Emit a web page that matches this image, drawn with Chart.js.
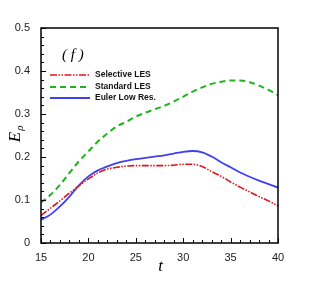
<!DOCTYPE html>
<html><head><meta charset="utf-8">
<script src="https://cdn.jsdelivr.net/npm/chart.js@4/dist/chart.umd.min.js"></script>
<style>html,body{margin:0;padding:0;background:#fff}#wrap{width:316px;height:281px}</style>
</head><body><div id="wrap"><canvas id="c" width="316" height="281"></canvas></div>
<script>
const tValues = [15,16,17,18,19,20,21,22,23,24,25,26,27,28,29,30,31,32,33,34,35,36,37,38,39,40];
const selectiveLES = [0.064,0.081,0.098,0.116,0.133,0.149,0.163,0.172,0.176,0.179,0.180,0.180,0.180,0.180,0.181,0.183,0.183,0.178,0.166,0.155,0.142,0.130,0.119,0.108,0.098,0.086];
const standardLES = [0.094,0.112,0.135,0.163,0.190,0.213,0.236,0.255,0.271,0.282,0.294,0.303,0.311,0.319,0.329,0.340,0.352,0.362,0.370,0.375,0.378,0.378,0.374,0.366,0.356,0.344];
const eulerLowRes = [0.054,0.066,0.085,0.108,0.134,0.155,0.169,0.178,0.186,0.191,0.195,0.198,0.201,0.204,0.208,0.212,0.214,0.211,0.201,0.188,0.176,0.164,0.154,0.145,0.137,0.129];
const seriesNames = ["Selective LES","Standard LES","Euler Low Res."];
const xTicks = [15,20,25,30,35,40];
const yTicks = [0,0.1,0.2,0.3,0.4,0.5];

const pts = arr => arr.map((v,i)=>({x:tValues[i], y:v}));

const framePlugin = {
  id:'frame',
  afterDatasetsDraw(chart){
    const {ctx, chartArea:a, scales:{x,y}} = chart;
    ctx.save();
    ctx.strokeStyle='#000';
    ctx.lineWidth=1;
    ctx.beginPath();
    for(let t=15;t<=40;t++){
      const px=Math.round(x.getPixelForValue(t))+0.5;
      const len = (t%5===0)?5:3;
      ctx.moveTo(px,a.bottom); ctx.lineTo(px,a.bottom-len);
    }
    for(let k=0;k<=25;k++){
      const v=k*0.02;
      const py=Math.round(y.getPixelForValue(v))+0.5;
      const len=(k%5===0)?5:3;
      ctx.moveTo(a.left,py); ctx.lineTo(a.left+len,py);
    }
    ctx.stroke();
    ctx.lineWidth=1.5;
    ctx.strokeRect(a.left,a.top,a.right-a.left,a.bottom-a.top);
    ctx.fillStyle='#000';
    ctx.font='italic 17px "Liberation Serif", "DejaVu Serif", serif';
    ctx.textAlign='center'; ctx.textBaseline='alphabetic';
    ctx.fillText('t',(a.left+a.right)/2+1,271);
    ctx.save();
    ctx.translate(20,137);
    ctx.rotate(-Math.PI/2);
    ctx.textAlign='center';
    ctx.fillText('E',0,0);
    ctx.font='italic 11px "Liberation Serif", "DejaVu Serif", serif';
    ctx.fillText('ρ',9,3);
    ctx.restore();
    ctx.font='italic 15px "Liberation Serif", "DejaVu Serif", serif';
    ctx.textAlign='left';
    ctx.fillText('( f )',62,59);
    ctx.restore();
  }
};

new Chart(document.getElementById('c'),{
  type:'line',
  data:{datasets:[
    {label:seriesNames[0],data:pts(selectiveLES),borderColor:'#e0141e',borderWidth:1.6,borderDash:[7,1.5,1.5,1.5,1.5,1.5],pointRadius:0,cubicInterpolationMode:'monotone',fill:false},
    {label:seriesNames[1],data:pts(standardLES),borderColor:'#1fb41f',borderWidth:2,borderDash:[6,4],pointRadius:0,cubicInterpolationMode:'monotone',fill:false},
    {label:seriesNames[2],data:pts(eulerLowRes),borderColor:'#4040f5',borderWidth:1.8,pointRadius:0,cubicInterpolationMode:'monotone',fill:false}
  ]},
  options:{
    responsive:false,animation:false,
    layout:{padding:{left:0,right:38,top:28,bottom:0}},
    plugins:{legend:{display:false},tooltip:{enabled:false}},
    scales:{
      x:{type:'linear',min:15,max:40,
        afterBuildTicks:s=>{s.ticks=xTicks.map(v=>({value:v}));},
        afterFit:s=>{s.height=38;},
        grid:{display:false},border:{display:false},
        ticks:{color:'#222',font:{family:'"Liberation Sans", Arial, sans-serif',size:11},padding:0,maxRotation:0}
      },
      y:{type:'linear',min:0,max:0.5,
        afterBuildTicks:s=>{s.ticks=yTicks.map(v=>({value:v}));},
        afterFit:s=>{s.width=41;},
        grid:{display:false},border:{display:false},
        ticks:{color:'#222',font:{family:'"Liberation Sans", Arial, sans-serif',size:11},padding:3,
          callback:v=>String(Math.round(v*10)/10)}
      }
    }
  },
  plugins:[framePlugin,{
    id:'legendBox',
    afterDatasetsDraw(chart){
      const ctx=chart.ctx;
      const ds=chart.data.datasets;
      const rows=[75,87,98];
      ctx.save();
      ds.forEach((d,i)=>{
        ctx.strokeStyle=d.borderColor; ctx.lineWidth=d.borderWidth;
        ctx.setLineDash(d.borderDash||[]);
        ctx.beginPath(); ctx.moveTo(50,rows[i]); ctx.lineTo(90,rows[i]); ctx.stroke();
        ctx.setLineDash([]);
        ctx.fillStyle='#111';
        ctx.font='bold 8.5px "Liberation Sans", Arial, sans-serif';
        ctx.textAlign='left'; ctx.textBaseline='middle';
        ctx.fillText(d.label,95,rows[i]);
      });
      ctx.restore();
    }
  }]
});
</script>
</body></html>
